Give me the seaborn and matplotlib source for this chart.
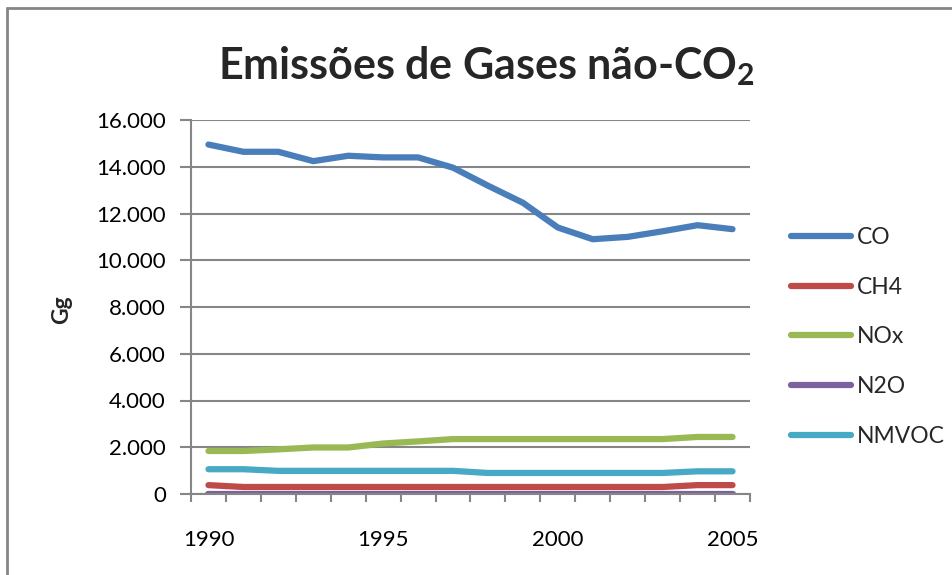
import matplotlib
matplotlib.use("Agg")
import matplotlib.pyplot as plt
from matplotlib.lines import Line2D
import seaborn as sns
import pandas as pd

years = list(range(1990, 2006))
co = [14950, 14640, 14640, 14240, 14470, 14400, 14400, 13960, 13190, 12460,
      11400, 10900, 11000, 11240, 11500, 11330]
ch4 = [380, 300, 300, 300, 300, 300, 300, 300, 300, 300, 300, 300, 300, 300, 380, 380]
nox = [1840, 1840, 1910, 1990, 1990, 2160, 2250, 2350, 2350, 2350, 2350, 2350, 2350, 2350, 2440, 2440]
n2o = [20] * 16
nmvoc = [1060, 1060, 990, 990, 990, 990, 990, 990, 900, 900, 900, 900, 900, 900, 970, 970]
series_names = ["CO", "CH4", "NOx", "N2O", "NMVOC"]
colors = ["#4A7EBB", "#BE4B48", "#98B954", "#7D60A0", "#46AAC5"]
yticks = [0, 2000, 4000, 6000, 8000, 10000, 12000, 14000, 16000]
ytick_labels = ["0", "2.000", "4.000", "6.000", "8.000", "10.000", "12.000", "14.000", "16.000"]
xtick_years = [1990, 1995, 2000, 2005]

sns.set_theme(style="white")
plt.rcParams['font.family'] = ['Lato', 'DejaVu Sans']
plt.rcParams['mathtext.fontset'] = 'custom'
plt.rcParams['mathtext.rm'] = 'Lato'
plt.rcParams['mathtext.bf'] = 'Lato:bold'

rows = []
for name, vals in zip(series_names, [co, ch4, nox, n2o, nmvoc]):
    for i, (y, v) in enumerate(zip(years, vals)):
        rows.append({"idx": i, "year": y, "gas": name, "value": v})
df = pd.DataFrame(rows)

fig = plt.figure(figsize=(9.53, 5.75), dpi=100)
W, H = 953, 575
ax = fig.add_axes([191 / W, 1 - 494 / H, (750 - 191) / W, (494 - 120) / H])

sns.lineplot(data=df, x="idx", y="value", hue="gas", hue_order=series_names,
             palette=colors, linewidth=4.5, ax=ax, legend=False,
             solid_capstyle="round", solid_joinstyle="round")

ax.set_xlim(-0.5, 15.5)
ax.set_ylim(0, 16000)
ax.set_yticks(yticks)
ax.set_yticklabels(ytick_labels)
ax.set_xticks([years.index(y) for y in xtick_years])
ax.set_xticklabels([str(y) for y in xtick_years])
ax.set_xticks([i - 0.5 for i in range(17)], minor=True)
ax.tick_params(axis="x", which="major", length=0, labelsize=16, pad=26)
ax.tick_params(axis="x", which="minor", length=6, width=1.5, color="#868686", direction="out",
               bottom=True)
ax.tick_params(axis="y", which="major", length=8, width=1.5, color="#868686",
               direction="out", labelsize=16, pad=10, left=True)
for lab in ax.get_yticklabels() + ax.get_xticklabels():
    lab.set_color("black")

ax.grid(axis="y", color="#868686", linewidth=1.5)
ax.set_axisbelow(True)
for s in ["top", "right"]:
    ax.spines[s].set_visible(False)
for s in ["left", "bottom"]:
    ax.spines[s].set_color("#868686")
    ax.spines[s].set_linewidth(1.5)

ax.set_xlabel("")
ax.set_ylabel("Gg", fontsize=16.5, fontweight="bold")
ax.yaxis.set_label_coords((72 - 191) / 559, (494 - 310) / 374)

fig.text(487 / W, 1 - 66 / H, r"Emissões de Gases não-CO$_\mathbf{2}$", ha="center", va="center",
         fontsize=31, fontweight="bold")

handles = [Line2D([0], [0], color=c, linewidth=4.5, solid_capstyle="round") for c in colors]
fig.legend(handles, series_names, loc="upper left", bbox_to_anchor=(782 / W, 1 - 218 / H),
           frameon=False, fontsize=16.5, handlelength=2.6, handletextpad=0.25,
           labelspacing=1.25, borderaxespad=0)

fig.add_artist(Line2D([7 / W, 7 / W], [0, 1 - 8 / H], transform=fig.transFigure,
                      color="#868686", linewidth=2))
fig.add_artist(Line2D([7 / W, 1], [1 - 8 / H, 1 - 8 / H], transform=fig.transFigure,
                      color="#868686", linewidth=2))

fig.savefig("out.png", dpi=100)
